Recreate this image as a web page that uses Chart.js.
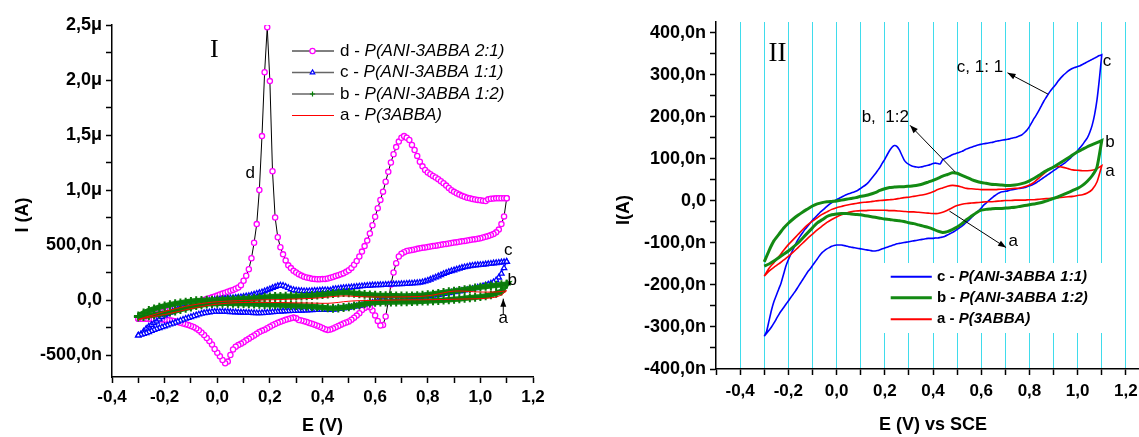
<!DOCTYPE html>
<html>
<head>
<meta charset="utf-8">
<script src="https://cdn.jsdelivr.net/npm/chart.js@4"></script>
<style>
  html, body { margin: 0; padding: 0; background: #fff; width: 1139px; height: 437px; overflow: hidden; }
  #left { position: absolute; left: 0; top: 0; }
  #right { position: absolute; left: 570px; top: 0; }
</style>
</head>
<body>
<canvas id="left" width="570" height="437"></canvas>
<canvas id="right" width="590" height="437"></canvas>
<script>
// potential sweep: -0.3 V -> 1.1 V -> -0.3 V, currents in nA
const E_START = -0.3;
const E_VERTEX = 1.1;

// d - P(ANI-3ABBA 2:1), every 10 mV
const dForward = [
  -170, -166, -160, -154, -147, -140, -133, -126, -119, -112,
  -105, -98, -91, -84, -77, -70, -63, -56, -49, -42,
  -35, -28, -21, -14, -7, 0, 8, 16, 24, 32,
  40, 50, 58, 66, 75, 83, 92, 102, 113, 135,
  175, 220, 280, 380, 520, 690, 1000, 1490, 2070, 2480,
  1990, 1170, 750, 570, 480, 415, 360, 315, 290, 265,
  250, 235, 222, 212, 205, 199, 194, 190, 188, 188,
  190, 192, 196, 202, 210, 218, 226, 234, 243, 256,
  270, 292, 320, 355, 395, 440, 490, 540, 605, 680,
  757, 835, 910, 985, 1075, 1165, 1250, 1325, 1390, 1440,
  1475, 1490, 1475, 1455, 1410, 1364, 1310, 1257, 1215, 1182,
  1160, 1143, 1128, 1114, 1098, 1080, 1061, 1040, 1018, 998,
  983, 970, 958, 947, 938, 930, 924, 918, 913, 910,
  907, 903, 900, 915, 920, 922, 924, 925, 925, 925,
  925
];
const dReverse = [
  925, 760, 690, 640, 615, 600, 590, 582, 575, 568,
  561, 557, 553, 549, 545, 541, 537, 533, 530, 526,
  522, 518, 514, 510, 506, 502, 498, 494, 490, 486,
  482, 478, 474, 470, 465, 460, 455, 450, 445, 435,
  420, 395, 335, 250, 140, -15, -150, -227, -232, -190,
  -140, -95, -67, -60, -72, -91, -120, -142, -162, -180,
  -195, -205, -213, -224, -236, -247, -258, -268, -272, -265,
  -255, -243, -233, -224, -216, -208, -200, -193, -187, -182,
  -165, -160, -165, -172, -180, -189, -197, -207, -218, -230,
  -243, -256, -270, -280, -292, -307, -323, -337, -352, -367,
  -384, -398, -410, -425, -450, -500, -560, -575, -545, -512,
  -479, -445, -405, -373, -345, -318, -296, -275, -258, -246,
  -236, -228, -220, -213, -207, -201, -193, -188, -185, -182,
  -180, -178, -176, -175, -174, -173, -172, -171, -170, -170,
  -170
];

// c - P(ANI-3ABBA 1:1), every 10 mV
const cForward = [
  -322, -310, -285, -260, -240, -225, -210, -195, -175, -155,
  -140, -127, -115, -103, -92, -83, -75, -67, -60, -53,
  -46, -40, -34, -28, -23, -18, -13, -8, -4, 0,
  3, 6, 9, 12, 15, 17, 19, 21, 23, 26,
  30, 34, 38, 43, 50, 57, 64, 72, 80, 90,
  99, 110, 120, 128, 132, 130, 122, 110, 98, 91,
  87, 84, 82, 81, 80, 81, 82, 84, 85, 87,
  89, 90, 89, 88, 98, 101, 104, 107, 110, 112,
  114, 116, 118, 121, 124, 126, 128, 130, 132, 134,
  135, 136, 137, 138, 139, 140, 142, 143, 144, 145,
  146, 147, 148, 150, 151, 153, 155, 158, 163, 169,
  177, 187, 197, 206, 216, 227, 238, 247, 256, 264,
  271, 278, 286, 293, 299, 304, 309, 313, 316, 318,
  320, 322, 325, 328, 331, 334, 337, 340, 343, 346,
  348
];
const cReverse = [
  348, 290, 240, 205, 180, 163, 150, 142, 134, 127,
  120, 114, 108, 102, 97, 92, 88, 84, 80, 76,
  72, 68, 64, 60, 56, 52, 48, 44, 41, 38,
  36, 34, 32, 31, 30, 29, 28, 27, 26, 24,
  23, 22, 21, 18, 14, 10, 5, 0, -5, -10,
  -17, -23, -28, -33, -39, -45, -50, -55, -60, -64,
  -68, -72, -75, -78, -81, -84, -86, -87, -88, -88,
  -89, -89, -89, -90, -91, -92, -93, -94, -95, -96,
  -97, -98, -99, -100, -101, -102, -104, -106, -108, -110,
  -112, -114, -116, -118, -119, -119, -118, -117, -116, -115,
  -114, -113, -112, -111, -110, -109, -107, -106, -105, -105,
  -105, -106, -108, -111, -114, -118, -123, -130, -138, -146,
  -154, -162, -169, -178, -187, -196, -205, -214, -222, -230,
  -238, -246, -254, -262, -271, -281, -291, -300, -308, -315,
  -322
];

// b - P(ANI-3ABBA 1:2), every 20 mV
const bForward = [
  -145, -118, -95, -80, -65, -53, -43, -34, -26, -19,
  -12, -7, -4, -2, -1, 0, 2, 4, 6, 8,
  11, 13, 16, 20, 25, 29, 32, 33, 34, 34,
  35, 36, 38, 41, 45, 49, 54, 59, 63, 67,
  66, 61, 56, 51, 47, 44, 42, 40, 39, 38,
  37, 37, 38, 40, 43, 48, 54, 61, 69, 75,
  81, 88, 95, 102, 110, 117, 123, 129, 134, 139,
  144
];
const bReverse = [
  144, 80, 60, 47, 37, 30, 25, 20, 15, 10,
  6, 2, -2, -5, -7, -9, -11, -13, -15, -16,
  -17, -18, -18, -19, -20, -22, -28, -36, -44, -54,
  -62, -68, -73, -75, -72, -67, -63, -60, -57, -54,
  -52, -49, -47, -46, -44, -43, -41, -39, -37, -35,
  -33, -32, -31, -30, -30, -31, -33, -37, -45, -52,
  -64, -76, -88, -100, -110, -119, -127, -135, -143, -150,
  -155
];

// a - P(3ABBA), every 20 mV
const aForward = [
  -179, -160, -147, -133, -118, -104, -92, -80, -68, -57,
  -48, -40, -32, -26, -20, -16, -13, -10, -8, -6,
  -4, -3, -2, 0, 1, 2, 3, 4, 6, 8,
  9, 11, 13, 15, 18, 22, 27, 31, 35, 37,
  36, 33, 30, 29, 28, 27, 27, 27, 27, 28,
  28, 29, 30, 31, 34, 38, 45, 55, 65, 75,
  81, 82, 80, 77, 74, 73, 72, 72, 73, 77,
  84
];
const aReverse = [
  84, 45, 27, 19, 15, 13, 11, 10, 9, 8,
  7, 6, 5, 4, 3, 3, 2, 2, 2, 1,
  1, 0, -1, -2, -2, -3, -4, -5, -6, -8,
  -11, -16, -22, -27, -30, -30, -29, -28, -27, -26,
  -26, -25, -24, -23, -23, -22, -22, -22, -22, -23,
  -23, -24, -26, -29, -33, -38, -44, -51, -60, -69,
  -79, -89, -100, -111, -122, -132, -141, -150, -158, -167,
  -179
];

// ticks
const leftXTicks = [-0.4, -0.3, -0.2, -0.1, 0, 0.1, 0.2, 0.3, 0.4, 0.5, 0.6, 0.7, 0.8, 0.9, 1.0, 1.1, 1.2];
const leftXLabels = ['-0,4', '', '-0,2', '', '0,0', '', '0,2', '', '0,4', '', '0,6', '', '0,8', '', '1,0', '', '1,2'];
const leftYTicks = [-500, -250, 0, 250, 500, 750, 1000, 1250, 1500, 1750, 2000, 2250, 2500];
const leftYLabels = ['-500,0n', '', '0,0', '', '500,0n', '', '1,0\u03bc', '', '1,5\u03bc', '', '2,0\u03bc', '', '2,5\u03bc'];
const rightXTicks = [-0.5, -0.4, -0.3, -0.2, -0.1, 0, 0.1, 0.2, 0.3, 0.4, 0.5, 0.6, 0.7, 0.8, 0.9, 1.0, 1.1, 1.2, 1.3];
const rightXLabels = ['', '-0,4', '', '-0,2', '', '0,0', '', '0,2', '', '0,4', '', '0,6', '', '0,8', '', '1,0', '', '1,2', ''];
const rightYTicks = [-400, -350, -300, -250, -200, -150, -100, -50, 0, 50, 100, 150, 200, 250, 300, 350, 400];
const rightYLabels = ['-400,0n', '', '-300,0n', '', '-200,0n', '', '-100,0n', '', '0,0', '', '100,0n', '', '200,0n', '', '300,0n', '', '400,0n'];

const SANS = "'Liberation Sans', Arial, sans-serif";
const SERIF = "'Liberation Serif', 'Times New Roman', serif";
Chart.defaults.font.family = SANS;
Chart.defaults.color = '#000';

function loop(fwd, rev, step) {
  const pts = [];
  fwd.forEach((v, i) => pts.push({ x: E_START + i * step, y: v }));
  rev.forEach((v, i) => pts.push({ x: E_VERTEX - i * step, y: v }));
  return pts;
}

function txt(ctx, s, x, y, font, align) {
  ctx.font = font;
  ctx.textAlign = align || 'center';
  ctx.textBaseline = 'middle';
  ctx.fillText(s, x, y);
}

function parts(ctx, x, y, list) {
  ctx.textAlign = 'left';
  ctx.textBaseline = 'middle';
  list.forEach(([s, font]) => {
    ctx.font = font;
    ctx.fillText(s, x, y);
    x += ctx.measureText(s).width;
  });
}

function arrow(ctx, x1, y1, x2, y2) {
  ctx.beginPath();
  ctx.moveTo(x1, y1);
  ctx.lineTo(x2, y2);
  ctx.stroke();
  const a = Math.atan2(y2 - y1, x2 - x1), L = 8, W = 3;
  ctx.beginPath();
  ctx.moveTo(x2, y2);
  ctx.lineTo(x2 - L * Math.cos(a) + W * Math.sin(a), y2 - L * Math.sin(a) - W * Math.cos(a));
  ctx.lineTo(x2 - L * Math.cos(a) - W * Math.sin(a), y2 - L * Math.sin(a) + W * Math.cos(a));
  ctx.closePath();
  ctx.fill();
}

function marker(ctx, style, color, x, y, r) {
  ctx.strokeStyle = color;
  ctx.fillStyle = '#fff';
  ctx.lineWidth = 1.2;
  Chart.helpers.drawPoint(ctx, { pointStyle: style, radius: r, borderWidth: 1.2, rotation: 0 }, x, y);
}

function axisCommon(ticks, labels, size) {
  return {
    type: 'linear',
    afterBuildTicks: s => { s.ticks = ticks.map(v => ({ value: v })); },
    ticks: {
      callback: (v, i) => labels[i],
      autoSkip: false, maxRotation: 0, minRotation: 0,
      font: { size: size, weight: 'bold' }, color: '#000'
    },
    border: { display: true, color: '#000', width: 1.5 },
    grid: { drawOnChartArea: false, tickLength: 6, tickWidth: 1.5, tickColor: '#000' }
  };
}

// ---------------- left panel ----------------
const leftDecor = {
  id: 'leftDecor',
  afterDatasetsDraw(chart) {
    const { ctx, scales: { x, y } } = chart;
    const px = v => x.getPixelForValue(v), py = v => y.getPixelForValue(v);
    ctx.save();
    ctx.fillStyle = '#000';
    ctx.strokeStyle = '#000';
    ctx.lineWidth = 1;
    txt(ctx, 'I', px(-0.011), py(2273), '26px ' + SERIF);
    txt(ctx, 'd', px(0.125), py(1155), '17px ' + SANS);
    txt(ctx, 'c', px(1.106), py(455), '17px ' + SANS);
    txt(ctx, 'b', px(1.121), py(182), '17px ' + SANS);
    txt(ctx, 'a', px(1.087), py(-168), '17px ' + SANS);
    arrow(ctx, px(1.087), py(-130), px(1.087), py(12));

    ctx.save();
    ctx.translate(23, 215);
    ctx.rotate(-Math.PI / 2);
    txt(ctx, 'I (A)', 0, 0, 'bold 18px ' + SANS);
    ctx.restore();

    const rows = [
      { y: 51, key: 'd - ', name: 'P(ANI-3ABBA 2:1)', line: '#000', mark: 'circle', color: '#ff00ff' },
      { y: 72.5, key: 'c - ', name: 'P(ANI-3ABBA 1:1)', line: '#666', mark: 'triangle', color: '#0000ff' },
      { y: 94, key: 'b - ', name: 'P(ANI-3ABBA 1:2)', line: '#666', mark: 'cross', color: '#008000' },
      { y: 115.5, key: 'a - ', name: 'P(3ABBA)', line: '#ff0000', mark: null }
    ];
    rows.forEach(r => {
      ctx.strokeStyle = r.line;
      ctx.lineWidth = r.line === '#666' ? 1.6 : 1;
      ctx.beginPath();
      ctx.moveTo(292, r.y);
      ctx.lineTo(334, r.y);
      ctx.stroke();
      if (r.mark) marker(ctx, r.mark, r.color, 312.5, r.y, 2.6);
      ctx.fillStyle = '#000';
      parts(ctx, 340, r.y, [[r.key, '17px ' + SANS], [r.name, 'italic 17px ' + SANS]]);
    });
    ctx.restore();
  }
};

const leftX = axisCommon(leftXTicks, leftXLabels, 17);
Object.assign(leftX, {
  min: -0.4, max: 1.2,
  afterFit: s => { s.height = 60; },
  title: { display: true, text: 'E (V)', font: { size: 18, weight: 'bold' }, padding: { top: 0, bottom: 0 } }
});
leftX.ticks.padding = 4;
const leftY = axisCommon(leftYTicks, leftYLabels, 18);
Object.assign(leftY, { min: -700, max: 2500, afterFit: s => { s.width = 112; } });
leftY.ticks.padding = 4;

new Chart(document.getElementById('left'), {
  type: 'scatter',
  data: {
    datasets: [
      { label: 'a', data: loop(aForward, aReverse, 0.02), showLine: true, borderColor: '#ff0000', borderWidth: 1, pointRadius: 0 },
      { label: 'b', data: loop(bForward, bReverse, 0.02), showLine: true, borderColor: '#0f850f', borderWidth: 5.5,
        pointStyle: 'cross', pointRadius: 4.4, pointBorderColor: '#0a7a0a', pointBorderWidth: 2 },
      { label: 'c', data: loop(cForward, cReverse, 0.01), showLine: true, borderColor: '#0000ff', borderWidth: 1,
        pointStyle: 'triangle', pointRadius: 3.1, pointBorderColor: '#0000ff', pointBackgroundColor: '#fff', pointBorderWidth: 1.3 },
      { label: 'd', data: loop(dForward, dReverse, 0.01), showLine: true, borderColor: '#000', borderWidth: 1,
        pointStyle: 'circle', pointRadius: 2.6, pointBorderColor: '#ff00ff', pointBackgroundColor: '#fff', pointBorderWidth: 1.3 }
    ]
  },
  options: {
    responsive: false, animation: false, devicePixelRatio: 1,
    layout: { padding: { top: 25, right: 37, bottom: 0, left: 0 } },
    plugins: { legend: { display: false }, tooltip: { enabled: false } },
    scales: { x: leftX, y: leftY }
  },
  plugins: [leftDecor]
});

// ---------------- right panel ----------------
const rightDecor = {
  id: 'rightDecor',
  beforeDatasetsDraw(chart) {
    const { ctx } = chart;
    ctx.save();
    ctx.fillStyle = '#fff';
    ctx.fillRect(308, 263, 230, 70);
    const rows = [
      { y: 276.7, key: 'c - ', name: 'P(ANI-3ABBA 1:1)', color: '#0000ff', w: 2 },
      { y: 297.7, key: 'b - ', name: 'P(ANI-3ABBA 1:2)', color: '#138a13', w: 3 },
      { y: 319.3, key: 'a - ', name: 'P(3ABBA)', color: '#ff0000', w: 2 }
    ];
    rows.forEach(r => {
      ctx.strokeStyle = r.color;
      ctx.lineWidth = r.w;
      ctx.beginPath();
      ctx.moveTo(320.7, r.y);
      ctx.lineTo(361.8, r.y);
      ctx.stroke();
      ctx.fillStyle = '#000';
      parts(ctx, 367, r.y, [[r.key, 'bold 15px ' + SANS], [r.name, 'bold italic 15px ' + SANS]]);
    });
    ctx.restore();
  },
  afterDatasetsDraw(chart) {
    const { ctx, scales: { x, y } } = chart;
    const px = v => x.getPixelForValue(v), py = v => y.getPixelForValue(v);
    ctx.save();
    ctx.fillStyle = '#000';
    ctx.strokeStyle = '#000';
    ctx.lineWidth = 1;
    txt(ctx, 'II', px(-0.245), py(351), '27px ' + SERIF);
    txt(ctx, 'c', px(1.122), py(332), '17px ' + SANS);
    txt(ctx, 'b', px(1.134), py(140), '17px ' + SANS);
    txt(ctx, 'a', px(1.134), py(71), '17px ' + SANS);
    txt(ctx, 'c, 1: 1', px(0.595), py(317), '17px ' + SANS);
    arrow(ctx, px(0.878), py(254), px(0.709), py(305));
    txt(ctx, 'b,  1:2', px(0.202), py(199), '17px ' + SANS);
    arrow(ctx, px(0.492), py(69), px(0.305), py(180));
    txt(ctx, 'a', px(0.733), py(-97), '17px ' + SANS);
    arrow(ctx, px(0.468), py(-24), px(0.703), py(-111));

    ctx.save();
    ctx.translate(54, 210);
    ctx.rotate(-Math.PI / 2);
    txt(ctx, 'I(A)', 0, 0, 'bold 18px ' + SANS);
    ctx.restore();
    ctx.restore();
  }
};

const rightX = axisCommon(rightXTicks, rightXLabels, 17);
Object.assign(rightX, {
  min: -0.5, max: 1.3,
  afterFit: s => { s.height = 68; },
  title: { display: true, text: 'E (V) vs SCE', font: { size: 18, weight: 'bold' }, padding: { top: 0, bottom: 1 } }
});
rightX.ticks.padding = 6;
rightX.grid = {
  drawOnChartArea: true, tickLength: 6, tickWidth: 1.5, tickColor: '#000', lineWidth: 1,
  color: c => (c.tick && c.tick.value > -0.45 && c.tick.value < 1.25) ? '#3fdcec' : 'rgba(0,0,0,0)'
};
const rightY = axisCommon(rightYTicks, rightYLabels, 18);
Object.assign(rightY, { min: -400, max: 426, afterFit: s => { s.width = 146; } });
rightY.ticks.padding = 4;

new Chart(document.getElementById('right'), {
  type: 'scatter',
  data: {
    datasets: [
      { label: 'b', data: loop(bForward, bReverse, 0.02), showLine: true, borderColor: '#138a13', borderWidth: 3, pointRadius: 0, tension: 0.2 },
      { label: 'a', data: loop(aForward, aReverse, 0.02), showLine: true, borderColor: '#ff0000', borderWidth: 1.6, pointRadius: 0, tension: 0.2 },
      { label: 'c', data: loop(cForward, cReverse, 0.01), showLine: true, borderColor: '#0000ff', borderWidth: 1.6, pointRadius: 0, tension: 0.2 }
    ]
  },
  options: {
    responsive: false, animation: false, devicePixelRatio: 1,
    layout: { padding: { top: 22, right: 10, bottom: 0, left: 0 } },
    plugins: { legend: { display: false }, tooltip: { enabled: false } },
    scales: { x: rightX, y: rightY }
  },
  plugins: [rightDecor]
});
</script>
</body>
</html>
